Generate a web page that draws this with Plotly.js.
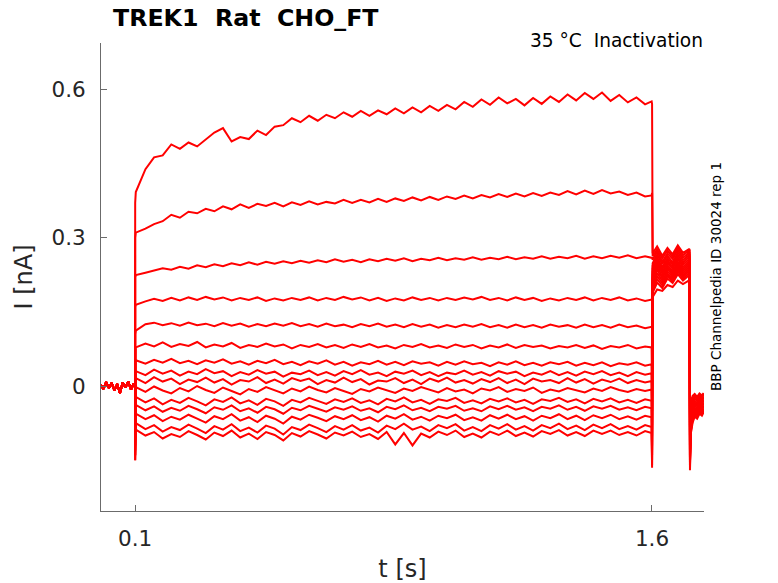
<!DOCTYPE html>
<html>
<head>
<meta charset="utf-8">
<script src="https://cdn.plot.ly/plotly-3.0.1.min.js"></script>
<style>
  html, body { margin: 0; padding: 0; background: #fff; }
  #chart { width: 778px; height: 583px; }
</style>
</head>
<body>
<div id="chart"></div>
<script>
/* TREK1 inactivation protocol: 15 current sweeps. */

// holding period before the step (shared by every sweep)
const tPre = [0, 0.008, 0.016, 0.024, 0.032, 0.04, 0.048, 0.056, 0.064, 0.072, 0.08, 0.088, 0.096, 0.1];
const iPre = [0.003, -0.006, 0.008, -0.004, 0.006, -0.009, 0.004, -0.014, 0.007, -0.003, 0.009, -0.007, 0.005, 0.001];

// step period, 0.1 s .. 1.6 s
const tStep = [0.102, 0.13, 0.155, 0.18, 0.205, 0.23, 0.255, 0.28, 0.305, 0.33,
  0.355, 0.38, 0.405, 0.43, 0.455, 0.48, 0.505, 0.53, 0.555, 0.58,
  0.605, 0.63, 0.655, 0.68, 0.705, 0.73, 0.755, 0.78, 0.805, 0.83,
  0.855, 0.88, 0.905, 0.93, 0.955, 0.98, 1.005, 1.03, 1.055, 1.08,
  1.105, 1.13, 1.155, 1.18, 1.205, 1.23, 1.255, 1.28, 1.305, 1.33,
  1.355, 1.38, 1.405, 1.43, 1.455, 1.48, 1.505, 1.53, 1.555, 1.58, 1.599];

// off transient, tail (1.6 .. 1.71 s), stop transient, after-tail
const tEnd = [1.6003, 1.602, 1.615, 1.63, 1.645, 1.66, 1.675, 1.69, 1.709, 1.7103,
  1.713, 1.718, 1.724, 1.731, 1.738, 1.745, 1.75];

// transient right at step onset, one per sweep
const onSpike = [0.37, 0.3, 0.22, 0.16, 0.105, -0.05, -0.08, -0.1, -0.11, -0.12, -0.13, -0.14, -0.15, -0.14, -0.15];

const step01 = [0.392, 0.438, 0.462, 0.466, 0.488, 0.479, 0.492, 0.484, 0.498, 0.512,
  0.521, 0.494, 0.503, 0.499, 0.516, 0.507, 0.524, 0.527, 0.541, 0.533,
  0.546, 0.536, 0.548, 0.541, 0.553, 0.544, 0.556, 0.546, 0.557, 0.549,
  0.561, 0.551, 0.563, 0.553, 0.566, 0.556, 0.568, 0.559, 0.574, 0.564,
  0.579, 0.568, 0.583, 0.571, 0.58, 0.567, 0.582, 0.57, 0.585, 0.574,
  0.589, 0.577, 0.592, 0.58, 0.593, 0.576, 0.588, 0.573, 0.583, 0.569, 0.575];
const step02 = [0.31, 0.318, 0.327, 0.333, 0.346, 0.34, 0.352, 0.349, 0.358, 0.353,
  0.363, 0.357, 0.367, 0.36, 0.368, 0.364, 0.37, 0.363, 0.371, 0.366,
  0.373, 0.367, 0.372, 0.369, 0.376, 0.37, 0.376, 0.371, 0.378, 0.372,
  0.379, 0.374, 0.381, 0.375, 0.382, 0.376, 0.383, 0.378, 0.385, 0.379,
  0.386, 0.381, 0.388, 0.382, 0.389, 0.383, 0.39, 0.384, 0.391, 0.386,
  0.394, 0.387, 0.395, 0.388, 0.396, 0.389, 0.393, 0.386, 0.391, 0.383, 0.385];
const step03 = [0.224, 0.229, 0.233, 0.238, 0.235, 0.241, 0.237, 0.244, 0.24, 0.246,
  0.242, 0.248, 0.244, 0.25, 0.245, 0.251, 0.247, 0.252, 0.248, 0.253,
  0.249, 0.254, 0.25, 0.256, 0.251, 0.255, 0.25, 0.256, 0.252, 0.257,
  0.253, 0.258, 0.252, 0.257, 0.254, 0.259, 0.254, 0.258, 0.255, 0.26,
  0.255, 0.259, 0.256, 0.261, 0.256, 0.26, 0.257, 0.262, 0.257, 0.261,
  0.258, 0.263, 0.257, 0.262, 0.258, 0.263, 0.259, 0.264, 0.258, 0.262, 0.259];
const step04 = [0.164, 0.171, 0.176, 0.172, 0.178, 0.173, 0.179, 0.174, 0.18, 0.175,
  0.179, 0.173, 0.178, 0.174, 0.179, 0.172, 0.177, 0.173, 0.178, 0.174,
  0.179, 0.173, 0.178, 0.174, 0.18, 0.175, 0.179, 0.173, 0.178, 0.172,
  0.177, 0.173, 0.179, 0.174, 0.178, 0.173, 0.178, 0.174, 0.179, 0.175,
  0.18, 0.174, 0.178, 0.173, 0.179, 0.174, 0.178, 0.172, 0.177, 0.173,
  0.178, 0.174, 0.179, 0.173, 0.178, 0.174, 0.179, 0.173, 0.177, 0.172, 0.175];
const step05 = [0.112, 0.125, 0.128, 0.123, 0.127, 0.122, 0.128, 0.123, 0.126, 0.121,
  0.127, 0.122, 0.126, 0.12, 0.125, 0.121, 0.126, 0.122, 0.127, 0.121,
  0.125, 0.12, 0.126, 0.121, 0.124, 0.119, 0.125, 0.121, 0.126, 0.12,
  0.124, 0.119, 0.125, 0.12, 0.124, 0.118, 0.123, 0.119, 0.124, 0.12,
  0.125, 0.119, 0.123, 0.118, 0.124, 0.119, 0.123, 0.118, 0.124, 0.12,
  0.123, 0.118, 0.124, 0.119, 0.123, 0.118, 0.124, 0.119, 0.122, 0.117, 0.12];
const step06 = [0.078, 0.086, 0.08, 0.088, 0.079, 0.085, 0.081, 0.089, 0.078, 0.084,
  0.08, 0.087, 0.077, 0.083, 0.079, 0.086, 0.08, 0.084, 0.076, 0.083,
  0.079, 0.085, 0.078, 0.083, 0.077, 0.084, 0.079, 0.085, 0.078, 0.082,
  0.076, 0.083, 0.079, 0.085, 0.078, 0.082, 0.077, 0.084, 0.079, 0.083,
  0.076, 0.082, 0.078, 0.084, 0.077, 0.083, 0.079, 0.082, 0.076, 0.081,
  0.078, 0.083, 0.077, 0.082, 0.075, 0.081, 0.078, 0.083, 0.076, 0.08, 0.078];
const step07 = [0.052, 0.045, 0.053, 0.047, 0.055, 0.046, 0.051, 0.044, 0.052, 0.047,
  0.054, 0.045, 0.05, 0.043, 0.051, 0.046, 0.053, 0.044, 0.049, 0.042,
  0.05, 0.045, 0.052, 0.043, 0.049, 0.041, 0.048, 0.044, 0.051, 0.043,
  0.049, 0.042, 0.05, 0.045, 0.048, 0.041, 0.049, 0.043, 0.05, 0.044,
  0.047, 0.04, 0.048, 0.043, 0.05, 0.042, 0.047, 0.041, 0.048, 0.044,
  0.049, 0.041, 0.047, 0.042, 0.048, 0.04, 0.046, 0.043, 0.048, 0.041, 0.044];
const step08 = [0.03, 0.022, 0.033, 0.025, 0.031, 0.021, 0.029, 0.024, 0.034, 0.026,
  0.03, 0.02, 0.028, 0.023, 0.032, 0.025, 0.029, 0.019, 0.027, 0.024,
  0.031, 0.022, 0.028, 0.021, 0.03, 0.024, 0.032, 0.023, 0.027, 0.02,
  0.029, 0.025, 0.031, 0.022, 0.028, 0.02, 0.027, 0.024, 0.031, 0.023,
  0.028, 0.021, 0.03, 0.025, 0.029, 0.02, 0.027, 0.023, 0.03, 0.022,
  0.028, 0.021, 0.029, 0.024, 0.03, 0.022, 0.027, 0.02, 0.028, 0.023, 0.026];
const step09 = [0.016, 0.006, 0.018, 0.009, 0.015, 0.004, 0.013, 0.008, 0.017, 0.007,
  0.014, 0.003, 0.012, 0.009, 0.018, 0.006, 0.013, 0.005, 0.016, 0.01,
  0.015, 0.004, 0.012, 0.007, 0.017, 0.008, 0.014, 0.003, 0.011, 0.009,
  0.016, 0.006, 0.013, 0.004, 0.015, 0.009, 0.017, 0.007, 0.012, 0.005,
  0.014, 0.008, 0.016, 0.006, 0.013, 0.004, 0.015, 0.009, 0.012, 0.006,
  0.016, 0.007, 0.014, 0.005, 0.013, 0.008, 0.015, 0.006, 0.012, 0.007, 0.01];
const step10 = [-0.002, -0.012, -0.001, -0.009, -0.015, -0.004, -0.011, 0.0, -0.008, -0.014,
  -0.003, -0.01, -0.017, -0.006, -0.012, -0.002, -0.009, -0.015, -0.005, -0.011,
  -0.001, -0.008, -0.013, -0.004, -0.01, -0.016, -0.006, -0.011, -0.003, -0.009,
  -0.014, -0.005, -0.01, -0.002, -0.008, -0.013, -0.004, -0.011, -0.007, -0.015,
  -0.005, -0.009, -0.002, -0.012, -0.006, -0.01, -0.003, -0.014, -0.007, -0.011,
  -0.004, -0.009, -0.013, -0.005, -0.01, -0.002, -0.008, -0.012, -0.006, -0.01, -0.007];
const step11 = [-0.022, -0.033, -0.025, -0.037, -0.028, -0.034, -0.024, -0.031, -0.039, -0.027,
  -0.032, -0.023, -0.035, -0.029, -0.038, -0.026, -0.031, -0.04, -0.028, -0.033,
  -0.024, -0.03, -0.036, -0.027, -0.032, -0.025, -0.034, -0.029, -0.037, -0.026,
  -0.031, -0.023, -0.033, -0.028, -0.036, -0.027, -0.03, -0.024, -0.034, -0.029,
  -0.035, -0.026, -0.031, -0.025, -0.033, -0.028, -0.036, -0.027, -0.03, -0.024,
  -0.032, -0.027, -0.035, -0.026, -0.031, -0.025, -0.033, -0.028, -0.034, -0.027, -0.03];
const step12 = [-0.038, -0.049, -0.041, -0.052, -0.044, -0.05, -0.04, -0.047, -0.055, -0.043,
  -0.048, -0.039, -0.051, -0.045, -0.054, -0.042, -0.047, -0.056, -0.044, -0.049,
  -0.04, -0.046, -0.052, -0.043, -0.048, -0.041, -0.05, -0.045, -0.053, -0.042,
  -0.047, -0.039, -0.049, -0.044, -0.051, -0.042, -0.046, -0.04, -0.05, -0.045,
  -0.051, -0.041, -0.047, -0.04, -0.048, -0.043, -0.051, -0.042, -0.046, -0.039,
  -0.048, -0.042, -0.05, -0.041, -0.046, -0.04, -0.048, -0.043, -0.049, -0.042, -0.045];
const step13 = [-0.056, -0.067, -0.059, -0.071, -0.062, -0.068, -0.058, -0.066, -0.074, -0.061,
  -0.067, -0.057, -0.07, -0.063, -0.073, -0.06, -0.066, -0.076, -0.062, -0.068,
  -0.058, -0.064, -0.071, -0.061, -0.067, -0.059, -0.069, -0.063, -0.072, -0.06,
  -0.066, -0.057, -0.068, -0.062, -0.07, -0.06, -0.065, -0.058, -0.069, -0.063,
  -0.07, -0.059, -0.066, -0.058, -0.067, -0.061, -0.07, -0.06, -0.065, -0.057,
  -0.067, -0.06, -0.069, -0.059, -0.065, -0.058, -0.067, -0.061, -0.068, -0.06, -0.063];
const step14 = [-0.075, -0.087, -0.079, -0.092, -0.083, -0.089, -0.078, -0.086, -0.095, -0.081,
  -0.088, -0.077, -0.091, -0.084, -0.094, -0.08, -0.086, -0.098, -0.083, -0.089,
  -0.078, -0.085, -0.093, -0.081, -0.088, -0.079, -0.09, -0.084, -0.094, -0.08,
  -0.087, -0.076, -0.088, -0.082, -0.091, -0.079, -0.085, -0.077, -0.09, -0.083,
  -0.091, -0.079, -0.086, -0.077, -0.088, -0.081, -0.09, -0.079, -0.085, -0.076,
  -0.087, -0.08, -0.089, -0.078, -0.085, -0.077, -0.087, -0.081, -0.088, -0.079, -0.083];
const step15 = [-0.088, -0.1, -0.093, -0.106, -0.097, -0.103, -0.091, -0.099, -0.108, -0.094,
  -0.101, -0.09, -0.104, -0.096, -0.107, -0.093, -0.099, -0.11, -0.095, -0.102,
  -0.091, -0.098, -0.106, -0.094, -0.1, -0.092, -0.103, -0.097, -0.107, -0.093,
  -0.118, -0.095, -0.12, -0.096, -0.104, -0.092, -0.099, -0.09, -0.103, -0.096,
  -0.104, -0.092, -0.099, -0.09, -0.101, -0.094, -0.102, -0.091, -0.097, -0.089,
  -0.1, -0.093, -0.101, -0.09, -0.097, -0.09, -0.099, -0.093, -0.1, -0.091, -0.095];

const end01 = [0.57, 0.268, 0.282, 0.263, 0.279, 0.266, 0.284, 0.269, 0.277, -0.05, -0.03, -0.02, -0.016, -0.022, -0.015, -0.019, -0.014];
const end02 = [0.39, 0.262, 0.276, 0.258, 0.274, 0.261, 0.28, 0.264, 0.275, -0.06, -0.035, -0.025, -0.019, -0.024, -0.017, -0.021, -0.016];
const end03 = [0.26, 0.255, 0.272, 0.251, 0.268, 0.257, 0.275, 0.259, 0.27, -0.07, -0.04, -0.028, -0.022, -0.027, -0.02, -0.024, -0.018];
const end04 = [0.175, 0.248, 0.266, 0.246, 0.263, 0.25, 0.27, 0.254, 0.266, -0.08, -0.045, -0.032, -0.026, -0.03, -0.023, -0.027, -0.021];
const end05 = [0.12, 0.243, 0.26, 0.24, 0.258, 0.246, 0.265, 0.249, 0.262, -0.09, -0.05, -0.036, -0.03, -0.034, -0.026, -0.03, -0.024];
const end06 = [-0.02, 0.238, 0.255, 0.236, 0.253, 0.241, 0.26, 0.245, 0.257, -0.1, -0.055, -0.04, -0.033, -0.038, -0.029, -0.033, -0.027];
const end07 = [-0.05, 0.232, 0.25, 0.231, 0.249, 0.237, 0.256, 0.24, 0.253, -0.11, -0.06, -0.044, -0.037, -0.041, -0.032, -0.036, -0.03];
const end08 = [-0.08, 0.226, 0.245, 0.227, 0.244, 0.232, 0.251, 0.236, 0.249, -0.12, -0.065, -0.048, -0.04, -0.045, -0.035, -0.039, -0.033];
const end09 = [-0.1, 0.22, 0.24, 0.222, 0.24, 0.228, 0.247, 0.232, 0.245, -0.13, -0.07, -0.052, -0.044, -0.048, -0.038, -0.042, -0.036];
const end10 = [-0.12, 0.214, 0.234, 0.218, 0.236, 0.224, 0.243, 0.228, 0.241, -0.14, -0.075, -0.056, -0.047, -0.051, -0.041, -0.045, -0.039];
const end11 = [-0.13, 0.208, 0.228, 0.213, 0.231, 0.22, 0.239, 0.224, 0.237, -0.145, -0.08, -0.06, -0.05, -0.054, -0.044, -0.048, -0.042];
const end12 = [-0.14, 0.202, 0.222, 0.208, 0.226, 0.216, 0.235, 0.221, 0.233, -0.15, -0.085, -0.064, -0.053, -0.057, -0.047, -0.051, -0.045];
const end13 = [-0.15, 0.195, 0.216, 0.203, 0.222, 0.212, 0.231, 0.217, 0.229, -0.155, -0.088, -0.067, -0.056, -0.06, -0.05, -0.054, -0.048];
const end14 = [-0.16, 0.188, 0.209, 0.198, 0.217, 0.208, 0.226, 0.213, 0.225, -0.16, -0.092, -0.07, -0.059, -0.063, -0.053, -0.057, -0.05];
const end15 = [-0.165, 0.18, 0.195, 0.192, 0.204, 0.2, 0.213, 0.206, 0.214, -0.17, -0.095, -0.074, -0.062, -0.066, -0.056, -0.06, -0.053];

const stepSweeps = [step01, step02, step03, step04, step05, step06, step07, step08,
  step09, step10, step11, step12, step13, step14, step15];
const endSweeps = [end01, end02, end03, end04, end05, end06, end07, end08,
  end09, end10, end11, end12, end13, end14, end15];

const FONT = "DejaVu Sans, sans-serif";
const AXIS_GRAY = "#6b6b6b";
const TEXT_DARK = "#262626";

const traces = stepSweeps.map((step, i) => ({
  x: [...tPre, 0.1002, ...tStep, ...tEnd],
  y: [...iPre, onSpike[i], ...step, ...endSweeps[i]],
  type: "scatter",
  mode: "lines",
  line: { color: "#ff0000", width: 2 },
  hoverinfo: "skip",
  showlegend: false,
}));

const axisCommon = {
  showgrid: false,
  zeroline: false,
  showline: true,
  linecolor: AXIS_GRAY,
  linewidth: 1,
  mirror: false,
  ticks: "inside",
  ticklen: 6,
  tickcolor: AXIS_GRAY,
  tickfont: { family: FONT, size: 21.5, color: TEXT_DARK },
  automargin: false,
};

const layout = {
  width: 778,
  height: 583,
  margin: { l: 101, r: 74, t: 43, b: 72 },
  paper_bgcolor: "#ffffff",
  plot_bgcolor: "#ffffff",
  font: { family: FONT, color: TEXT_DARK },
  title: {
    text: "<b>TREK1\u00a0\u00a0Rat\u00a0\u00a0CHO_FT</b>",
    font: { family: FONT, size: 23.7, color: "#000000" },
    xref: "container", yref: "container",
    x: 113 / 778, xanchor: "left",
    y: 1 - 18 / 583, yanchor: "middle",
  },
  xaxis: Object.assign({}, axisCommon, {
    range: [0.001, 1.751],
    tickvals: [0.1, 1.6],
    ticktext: ["0.1", "1.6"],
    ticklabelstandoff: 8,
    title: { text: "t [s]", font: { family: FONT, size: 24, color: TEXT_DARK }, standoff: 10 },
  }),
  yaxis: Object.assign({}, axisCommon, {
    range: [-0.2525, 0.693],
    tickvals: [0, 0.3, 0.6],
    ticktext: ["0", "0.3", "0.6"],
    ticklabelstandoff: 10,
    title: { text: "I [nA]", font: { family: FONT, size: 24, color: TEXT_DARK }, standoff: 12 },
  }),
  annotations: [
    {
      text: "35 °C\u00a0\u00a0Inactivation",
      xref: "paper", yref: "paper",
      x: 1, y: 1, xanchor: "right", yanchor: "middle",
      xshift: 1, yshift: 3,
      showarrow: false,
      font: { family: FONT, size: 18.6, color: "#000000" },
    },
    {
      text: "BBP Channelpedia ID 30024 rep 1",
      xref: "paper", yref: "paper",
      x: 1, y: (511 - 277) / 468,
      xanchor: "center", yanchor: "middle",
      xshift: 12,
      textangle: -90,
      showarrow: false,
      font: { family: FONT, size: 13.5, color: "#000000" },
    },
  ],
};

Plotly.newPlot("chart", traces, layout, { staticPlot: true, displayModeBar: false });
</script>
</body>
</html>
